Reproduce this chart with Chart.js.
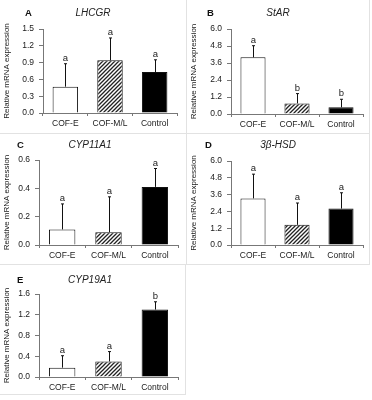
<!DOCTYPE html>
<html>
<head>
<meta charset="utf-8">
<script src="https://cdn.jsdelivr.net/npm/chart.js@4.4.1/dist/chart.umd.min.js"></script>
<style>
body { margin:0; background:#fff; font-family: Arial, "Liberation Sans", sans-serif; }
.panel { position:absolute; box-sizing:border-box; border-right:1px solid #e2e2e2; border-bottom:1px solid #e2e2e2; }
.panel canvas { position:absolute; left:0; top:0; }
.letter { position:absolute; font-size:9.5px; font-weight:bold; color:#111; line-height:1; }
.gene { position:absolute; font-size:10px; font-style:italic; color:#222; line-height:1; transform:translateX(-50%); white-space:nowrap; }
</style>
</head>
<body>
<script>
var categories = ['COF-E', 'COF-M/L', 'Control'];

var lhcgrMean = [0.47, 0.94, 0.73];
var lhcgrSD = [0.41, 0.40, 0.22];
var lhcgrLetters = ['a', 'a', 'a'];

var starMean = [4.00, 0.75, 0.47];
var starSD = [0.82, 0.69, 0.57];
var starLetters = ['a', 'b', 'b'];

var cyp11a1Mean = [0.11, 0.09, 0.41];
var cyp11a1SD = [0.18, 0.25, 0.13];
var cyp11a1Letters = ['a', 'a', 'a'];

var hsdMean = [3.33, 1.44, 2.60];
var hsdSD = [1.73, 1.56, 1.13];
var hsdLetters = ['a', 'a', 'a'];

var cyp19a1Mean = [0.18, 0.30, 1.30];
var cyp19a1SD = [0.23, 0.19, 0.15];
var cyp19a1Letters = ['a', 'a', 'b'];

var lhcgrTicks = [0, 1.5, 0.3];
var starTicks = [0, 6.0, 1.2];
var cyp11a1Ticks = [0, 0.6, 0.2];
var hsdTicks = [0, 6.0, 1.2];
var cyp19a1Ticks = [0, 1.6, 0.4];

var FONT = 'Arial, "Liberation Sans", sans-serif';

// diagonal hatch for COF-M/L
function makeHatch() {
  var c = document.createElement('canvas');
  c.width = 4; c.height = 4;
  var g = c.getContext('2d');
  g.fillStyle = '#fff';
  g.fillRect(0, 0, 4, 4);
  g.strokeStyle = '#222';
  g.lineWidth = 1.3;
  g.beginPath();
  g.moveTo(0, 4); g.lineTo(4, 0);
  g.moveTo(-1, 1); g.lineTo(1, -1);
  g.moveTo(3, 5); g.lineTo(5, 3);
  g.stroke();
  return document.createElement('canvas').getContext('2d').createPattern(c, 'repeat');
}
var hatch = makeHatch();

var errorBars = {
  id: 'errorBars',
  afterDatasetsDraw: function(chart) {
    var ctx = chart.ctx;
    var ds = chart.data.datasets[0];
    var yScale = chart.scales.y;
    var meta = chart.getDatasetMeta(0);
    ctx.save();
    meta.data.forEach(function(bar, i) {
      var yTop = yScale.getPixelForValue(ds.data[i] + ds.sd[i]);
      var x = Math.round(bar.x) + 0.5;
      ctx.strokeStyle = '#111';
      ctx.lineWidth = 1;
      ctx.beginPath();
      ctx.moveTo(x, bar.y);
      ctx.lineTo(x, yTop);
      ctx.moveTo(x - 1.5, yTop);
      ctx.lineTo(x + 1.5, yTop);
      ctx.stroke();
      ctx.fillStyle = '#222';
      ctx.font = '9.5px ' + FONT;
      ctx.textAlign = 'center';
      ctx.textBaseline = 'alphabetic';
      ctx.fillText(ds.letters[i], x, yTop - 3);
    });
    ctx.restore();
  }
};

function panel(opt) {
  var div = document.createElement('div');
  div.className = 'panel';
  div.style.left = opt.x + 'px';
  div.style.top = opt.y + 'px';
  div.style.width = opt.w + 'px';
  div.style.height = opt.h + 'px';
  document.body.appendChild(div);

  var canvas = document.createElement('canvas');
  canvas.width = opt.w - 1;
  canvas.height = opt.h - 1;
  div.appendChild(canvas);

  var letter = document.createElement('div');
  letter.className = 'letter';
  letter.textContent = opt.letter;
  letter.style.left = opt.letterX + 'px';
  letter.style.top = opt.textY + 'px';
  div.appendChild(letter);

  var gene = document.createElement('div');
  gene.className = 'gene';
  gene.textContent = opt.gene;
  gene.style.left = opt.geneX + 'px';
  gene.style.top = opt.textY + 'px';
  div.appendChild(gene);

  var plotLeft = opt.area[0], plotRight = opt.area[1], plotTop = opt.area[2], plotBottom = opt.area[3];

  new Chart(canvas.getContext('2d'), {
    type: 'bar',
    data: {
      labels: categories,
      datasets: [{
        data: opt.mean,
        sd: opt.sd,
        letters: opt.letters,
        backgroundColor: ['#ffffff', hatch, '#000000'],
        borderColor: '#111',
        borderWidth: 1,
        barPercentage: 0.57,
        categoryPercentage: 1
      }]
    },
    options: {
      responsive: false,
      devicePixelRatio: 1,
      animation: false,
      layout: { padding: { left: 0, top: plotTop, right: canvas.width - plotRight, bottom: 0 } },
      plugins: { legend: { display: false }, tooltip: { enabled: false } },
      scales: {
        x: {
          grid: { offset: true, drawOnChartArea: false, tickLength: 3, color: '#777' },
          border: { color: '#777' },
          ticks: { color: '#1a1a1a', padding: 3, font: { size: 8.5, family: FONT } },
          afterFit: function(s) { s.height = canvas.height - plotBottom; }
        },
        y: {
          min: opt.ticks[0],
          max: opt.ticks[1],
          grid: { drawOnChartArea: false, tickLength: 4, color: '#777' },
          border: { color: '#777' },
          ticks: {
            stepSize: opt.ticks[2],
            color: '#1a1a1a',
            padding: 5,
            font: { size: 8.5, family: FONT },
            callback: function(v) { return Number(v).toFixed(1); }
          },
          title: {
            display: true,
            text: 'Relative mRNA expression',
            color: '#1a1a1a',
            padding: { top: 2, bottom: 0 },
            font: { size: 8, family: FONT }
          },
          afterFit: function(s) { s.width = plotLeft; }
        }
      }
    },
    plugins: [errorBars]
  });
}

panel({ x: 0, y: 0, w: 187, h: 134, letter: 'A', letterX: 25, gene: 'LHCGR', geneX: 93, textY: 8,
  area: [43, 177, 29, 113], mean: lhcgrMean, sd: lhcgrSD, letters: lhcgrLetters, ticks: lhcgrTicks });
panel({ x: 187, y: 0, w: 183, h: 134, letter: 'B', letterX: 20, gene: 'StAR', geneX: 91, textY: 8,
  area: [44, 176, 29, 114], mean: starMean, sd: starSD, letters: starLetters, ticks: starTicks });
panel({ x: 0, y: 134, w: 187, h: 131, letter: 'C', letterX: 17, gene: 'CYP11A1', geneX: 90, textY: 6,
  area: [39, 178, 26, 111], mean: cyp11a1Mean, sd: cyp11a1SD, letters: cyp11a1Letters, ticks: cyp11a1Ticks });
panel({ x: 187, y: 134, w: 183, h: 131, letter: 'D', letterX: 18, gene: '3\u03b2-HSD', geneX: 91, textY: 6,
  area: [44, 176, 27, 111], mean: hsdMean, sd: hsdSD, letters: hsdLetters, ticks: hsdTicks });
panel({ x: 0, y: 265, w: 186, h: 130, letter: 'E', letterX: 17, gene: 'CYP19A1', geneX: 90, textY: 10,
  area: [39, 178, 29, 112], mean: cyp19a1Mean, sd: cyp19a1SD, letters: cyp19a1Letters, ticks: cyp19a1Ticks });
</script>
</body>
</html>
